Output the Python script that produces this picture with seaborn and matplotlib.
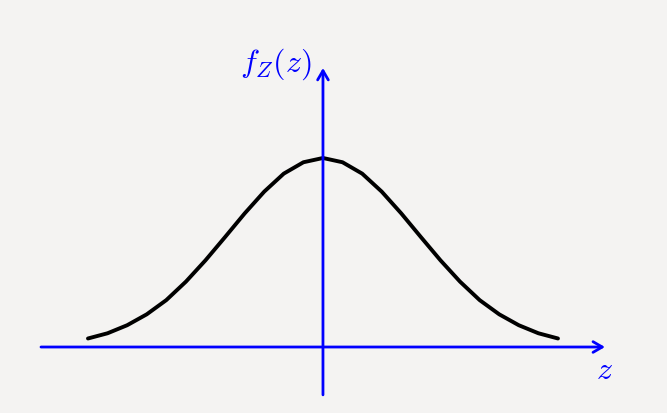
import numpy as np
import pandas as pd
import matplotlib
matplotlib.use("Agg")
import matplotlib.pyplot as plt
import seaborn as sns

# sample points of the density curve
z_vals = [-2.5, -2.292, -2.083, -1.875, -1.667, -1.458, -1.25, -1.042, -0.833,
          -0.625, -0.417, -0.208, 0.0, 0.208, 0.417, 0.625, 0.833, 1.042,
          1.25, 1.458, 1.667, 1.875, 2.083, 2.292, 2.5]
f_vals = [0.018, 0.029, 0.046, 0.069, 0.099, 0.138, 0.183, 0.232, 0.282,
          0.328, 0.366, 0.390, 0.399, 0.390, 0.366, 0.328, 0.282, 0.232,
          0.183, 0.138, 0.099, 0.069, 0.046, 0.029, 0.018]

# axis extents
x_axis = [-3.0, 3.0]
y_axis = [-0.101, 0.589]
x_label = "$z$"
y_label = "$f_Z(z)$"

bg = "#f4f3f2"
blue = "#0000ff"

sns.set_theme(style="white")
plt.rcParams["mathtext.fontset"] = "cm"

fig = plt.figure(figsize=(6.67, 4.13), dpi=100, facecolor=bg)
ax = fig.add_axes([0, 0, 1, 1])
ax.set_facecolor(bg)

df = pd.DataFrame({"z": z_vals, "f": f_vals})
sns.lineplot(data=df, x="z", y="f", color="black", linewidth=2.8, ax=ax,
             sort=False, zorder=2)

arrow = dict(arrowstyle="->,head_length=0.55,head_width=0.32", color=blue,
             lw=2.0, shrinkA=0, shrinkB=0)
ax.annotate("", xy=(x_axis[1], 0), xytext=(x_axis[0], 0), arrowprops=arrow, zorder=3)
ax.annotate("", xy=(0, y_axis[1]), xytext=(0, y_axis[0]), arrowprops=arrow, zorder=3)

ax.text(3.0, -0.049, x_label, color=blue, fontsize=23, ha="center", va="center")
ax.text(-0.5, 0.597, y_label, color=blue, fontsize=23, ha="center", va="center")

ax.set_xlim(-3.436, 3.660)
ax.set_ylim(-0.1393, 0.7325)
ax.set_axis_off()

fig.savefig("out.png", dpi=100, facecolor=bg)
